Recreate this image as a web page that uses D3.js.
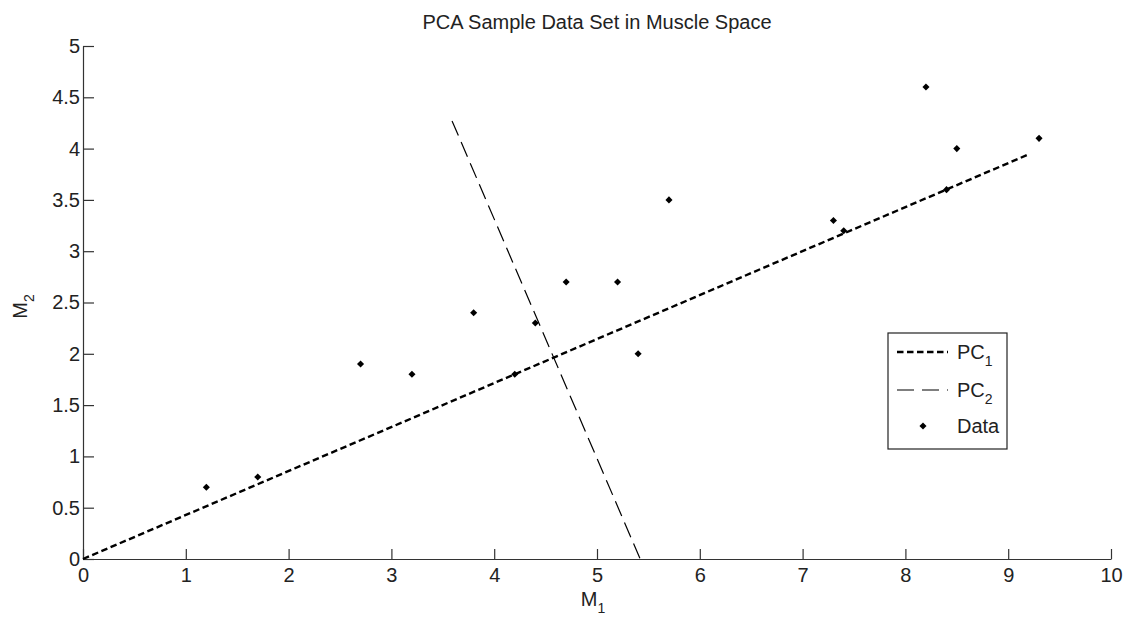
<!DOCTYPE html>
<html>
<head>
<meta charset="utf-8">
<script src="https://cdn.jsdelivr.net/npm/d3@7"></script>
<style>
  html, body { margin: 0; padding: 0; background: #fff; }
  text { font-family: "Liberation Sans", Arial, sans-serif; fill: #222; }
</style>
</head>
<body>
<svg id="chart" width="1123" height="618"></svg>
<script>
// Sample observations in muscle space (M1, M2)
const dataM1 = [1.2, 1.7, 2.7, 3.2, 3.8, 4.2, 4.4, 4.7, 5.2, 5.4, 5.7, 7.3, 7.4, 8.2, 8.4, 8.5, 9.3];
const dataM2 = [0.7, 0.8, 1.9, 1.8, 2.4, 1.8, 2.3, 2.7, 2.7, 2.0, 3.5, 3.3, 3.2, 4.6, 3.6, 4.0, 4.1];

// Principal component segments (start, end)
const pc1M1 = [0, 9.19];
const pc1M2 = [0, 3.94];
const pc2M1 = [3.59, 5.42];
const pc2M2 = [4.27, 0];

const xTicks = [0, 1, 2, 3, 4, 5, 6, 7, 8, 9, 10];
const yTicks = [0, 0.5, 1, 1.5, 2, 2.5, 3, 3.5, 4, 4.5, 5];

const svg = d3.select("#chart");
const plotLeft = 83, plotRight = 1111, plotTop = 46, plotBottom = 559;

const x = d3.scaleLinear().domain([0, 10]).range([plotLeft, plotRight]);
const y = d3.scaleLinear().domain([0, 5]).range([plotBottom, plotTop]);

const axisColor = "#333";
const tickFont = "20px";

// Title
svg.append("text")
  .attr("x", (plotLeft + plotRight) / 2).attr("y", 29)
  .attr("text-anchor", "middle")
  .style("font-size", "20px")
  .text("PCA Sample Data Set in Muscle Space");

// X axis (ticks point inward)
const xAxis = svg.append("g")
  .attr("transform", `translate(0,${plotBottom})`)
  .call(d3.axisBottom(x).tickValues(xTicks).tickSizeInner(-10).tickSizeOuter(0).tickPadding(14)
    .tickFormat(d3.format("")));
xAxis.select(".domain").attr("stroke", axisColor).attr("stroke-width", 1.2);
xAxis.selectAll(".tick line").attr("stroke", axisColor).attr("stroke-width", 1.2);
xAxis.selectAll(".tick text").style("font-size", tickFont).attr("fill", "#222")
  .attr("font-family", "Liberation Sans, Arial, sans-serif").attr("dy", "0.72em").attr("y", 9);

// Y axis
const yAxis = svg.append("g")
  .attr("transform", `translate(${plotLeft},0)`)
  .call(d3.axisLeft(y).tickValues(yTicks).tickSizeInner(-11).tickSizeOuter(0).tickPadding(3)
    .tickFormat(d3.format("")));
yAxis.select(".domain").attr("stroke", axisColor).attr("stroke-width", 1.2);
yAxis.selectAll(".tick line").attr("stroke", axisColor).attr("stroke-width", 1.2);
yAxis.selectAll(".tick text").style("font-size", tickFont).attr("fill", "#222")
  .attr("font-family", "Liberation Sans, Arial, sans-serif").attr("x", -3);

// Axis labels
const xl = svg.append("text")
  .attr("x", (plotLeft + plotRight) / 2 - 4).attr("y", 606)
  .attr("text-anchor", "middle")
  .style("font-size", "20px");
xl.append("tspan").text("M");
xl.append("tspan").attr("dy", 7).style("font-size", "14px").text("1");

const yl = svg.append("text")
  .attr("transform", `translate(27,${y(2.5) + 4}) rotate(-90)`)
  .attr("text-anchor", "middle")
  .style("font-size", "20px");
yl.append("tspan").text("M");
yl.append("tspan").attr("dy", 7).style("font-size", "14px").text("2");

// Lines
const line = d3.line().x(d => x(d[0])).y(d => y(d[1]));

svg.append("path")
  .datum(d3.zip(pc1M1, pc1M2))
  .attr("d", line)
  .attr("fill", "none").attr("stroke", "#000")
  .attr("stroke-width", 2.4).attr("stroke-dasharray", "6.5,3.5");

svg.append("path")
  .datum(d3.zip(pc2M1, pc2M2))
  .attr("d", line)
  .attr("fill", "none").attr("stroke", "#000")
  .attr("stroke-width", 1.2).attr("stroke-dasharray", "16,7");

// Data markers (diamonds)
const diamond = d3.symbol().type(d3.symbolDiamond2).size(32);
svg.append("g").selectAll("path")
  .data(d3.zip(dataM1, dataM2))
  .join("path")
  .attr("d", diamond)
  .attr("transform", d => `translate(${x(d[0])},${y(d[1])})`)
  .attr("fill", "#000");

// Legend
const lg = svg.append("g");
lg.append("rect")
  .attr("x", 888).attr("y", 333).attr("width", 119).attr("height", 116)
  .attr("fill", "#fff").attr("stroke", "#222").attr("stroke-width", 1.2);

const legendRows = [
  { label: "PC", sub: "1", yy: 352, kind: "pc1" },
  { label: "PC", sub: "2", yy: 390, kind: "pc2" },
  { label: "Data", sub: "", yy: 426, kind: "data" }
];
legendRows.forEach(r => {
  if (r.kind === "pc1") {
    lg.append("line").attr("x1", 897).attr("x2", 948).attr("y1", r.yy).attr("y2", r.yy)
      .attr("stroke", "#000").attr("stroke-width", 2.4).attr("stroke-dasharray", "6.5,3.5");
  } else if (r.kind === "pc2") {
    lg.append("line").attr("x1", 897).attr("x2", 948).attr("y1", r.yy).attr("y2", r.yy)
      .attr("stroke", "#000").attr("stroke-width", 1.2).attr("stroke-dasharray", "17,8");
  } else {
    lg.append("path").attr("d", diamond).attr("transform", `translate(923,${r.yy})`).attr("fill", "#000");
  }
  const t = lg.append("text").attr("x", 957).attr("y", r.yy + 7).style("font-size", "20px");
  t.append("tspan").text(r.label);
  if (r.sub) t.append("tspan").attr("dy", 7).style("font-size", "14px").text(r.sub);
});
</script>
</body>
</html>
